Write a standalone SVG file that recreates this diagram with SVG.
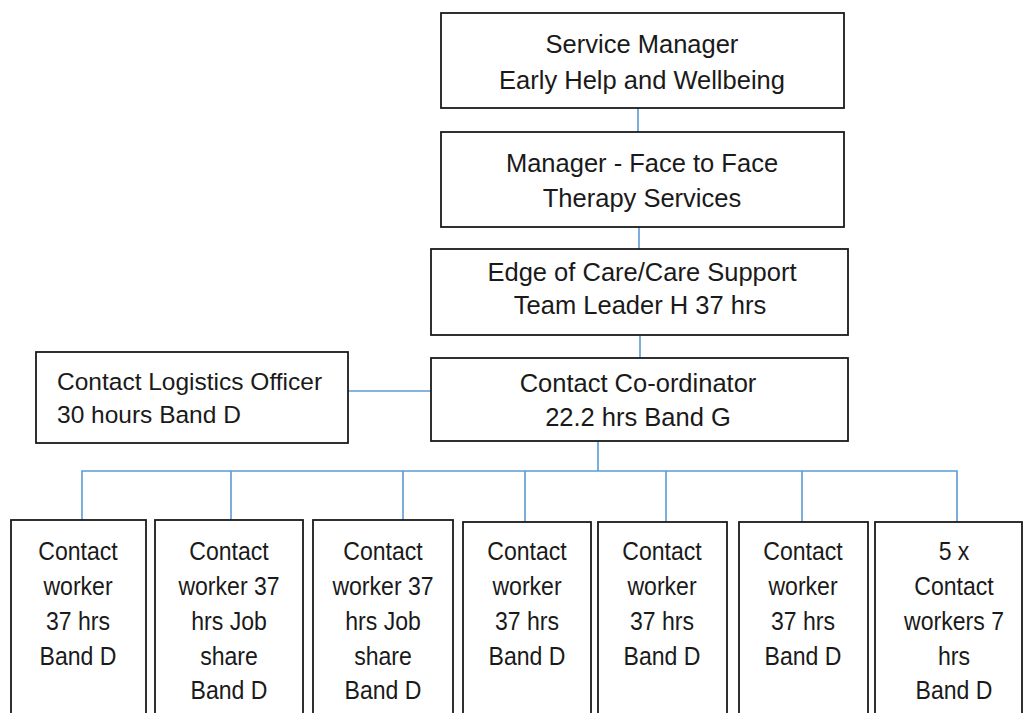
<svg xmlns="http://www.w3.org/2000/svg" width="1026" height="713" viewBox="0 0 1026 713">
<style>
.box{fill:#fff;stroke:#1a1a1a;stroke-width:1.8}
.t{font-family:"Liberation Sans",Arial,sans-serif;font-size:25.5px;fill:#1a1a1a;text-anchor:middle}
.tb{font-family:"Liberation Sans",Arial,sans-serif;font-size:26.5px;fill:#1a1a1a;text-anchor:middle}
.tl{font-family:"Liberation Sans",Arial,sans-serif;font-size:24.5px;fill:#1a1a1a}
.c{fill:none;stroke:#5b9bd5;stroke-width:1.6}
</style>
<rect width="1026" height="713" fill="#fff"/>
<g id="connectors">
<line class="c" x1="638" y1="108" x2="638" y2="132"/>
<line class="c" x1="639" y1="227" x2="639" y2="249"/>
<line class="c" x1="640" y1="335" x2="640" y2="358"/>
<line class="c" x1="348" y1="391" x2="431" y2="391"/>
<line class="c" x1="598" y1="441" x2="598" y2="471"/>
<polyline class="c" points="82,520 82,471 957,471 957,522"/>
<line class="c" x1="231" y1="471" x2="231" y2="520"/>
<line class="c" x1="403" y1="471" x2="403" y2="520"/>
<line class="c" x1="525" y1="471" x2="525" y2="522"/>
<line class="c" x1="666" y1="471" x2="666" y2="522"/>
<line class="c" x1="802" y1="471" x2="802" y2="522"/>
</g>
<g id="service-manager">
<rect class="box" x="441" y="13" width="403" height="95"/>
<text class="t" x="642" y="53">Service Manager</text>
<text class="t" x="642" y="89">Early Help and Wellbeing</text>
</g>
<g id="manager-f2f">
<rect class="box" x="441" y="132" width="403" height="95"/>
<text class="t" x="642" y="172">Manager - Face to Face</text>
<text class="t" x="642" y="207">Therapy Services</text>
</g>
<g id="team-leader">
<rect class="box" x="431" y="249" width="417" height="86"/>
<text class="t" x="642" y="281">Edge of Care/Care Support</text>
<text class="t" x="640" y="314">Team Leader H 37 hrs</text>
</g>
<g id="coordinator">
<rect class="box" x="431" y="358" width="417" height="83"/>
<text class="t" x="638" y="392">Contact Co-ordinator</text>
<text class="t" x="638" y="426">22.2 hrs Band G</text>
</g>
<g id="logistics">
<rect class="box" x="36" y="352" width="312" height="91"/>
<text class="tl" x="57" y="390">Contact Logistics Officer</text>
<text class="tl" x="57" y="423">30 hours Band D</text>
</g>
<g id="worker1">
<rect class="box" x="11" y="520" width="135" height="210"/>
<g transform="translate(78 0) scale(0.87 1)">
<text class="tb" x="0" y="560">Contact</text>
<text class="tb" x="0" y="595">worker</text>
<text class="tb" x="0" y="630">37 hrs</text>
<text class="tb" x="0" y="665">Band D</text>
</g>
</g>
<g id="worker2">
<rect class="box" x="155" y="520" width="148" height="210"/>
<g transform="translate(229 0) scale(0.87 1)">
<text class="tb" x="0" y="560">Contact</text>
<text class="tb" x="0" y="595">worker 37</text>
<text class="tb" x="0" y="630">hrs Job</text>
<text class="tb" x="0" y="665">share</text>
<text class="tb" x="0" y="699">Band D</text>
</g>
</g>
<g id="worker3">
<rect class="box" x="313" y="520" width="140" height="210"/>
<g transform="translate(383 0) scale(0.87 1)">
<text class="tb" x="0" y="560">Contact</text>
<text class="tb" x="0" y="595">worker 37</text>
<text class="tb" x="0" y="630">hrs Job</text>
<text class="tb" x="0" y="665">share</text>
<text class="tb" x="0" y="699">Band D</text>
</g>
</g>
<g id="worker4">
<rect class="box" x="463" y="522" width="128" height="210"/>
<g transform="translate(527 0) scale(0.87 1)">
<text class="tb" x="0" y="560">Contact</text>
<text class="tb" x="0" y="595">worker</text>
<text class="tb" x="0" y="630">37 hrs</text>
<text class="tb" x="0" y="665">Band D</text>
</g>
</g>
<g id="worker5">
<rect class="box" x="598" y="522" width="129" height="210"/>
<g transform="translate(662 0) scale(0.87 1)">
<text class="tb" x="0" y="560">Contact</text>
<text class="tb" x="0" y="595">worker</text>
<text class="tb" x="0" y="630">37 hrs</text>
<text class="tb" x="0" y="665">Band D</text>
</g>
</g>
<g id="worker6">
<rect class="box" x="739" y="522" width="129" height="210"/>
<g transform="translate(803 0) scale(0.87 1)">
<text class="tb" x="0" y="560">Contact</text>
<text class="tb" x="0" y="595">worker</text>
<text class="tb" x="0" y="630">37 hrs</text>
<text class="tb" x="0" y="665">Band D</text>
</g>
</g>
<g id="worker7">
<rect class="box" x="875" y="522" width="147" height="210"/>
<g transform="translate(954 0) scale(0.87 1)">
<text class="tb" x="0" y="560">5 x</text>
<text class="tb" x="0" y="595">Contact</text>
<text class="tb" x="0" y="630">workers 7</text>
<text class="tb" x="0" y="665">hrs</text>
<text class="tb" x="0" y="699">Band D</text>
</g>
</g>
</svg>
